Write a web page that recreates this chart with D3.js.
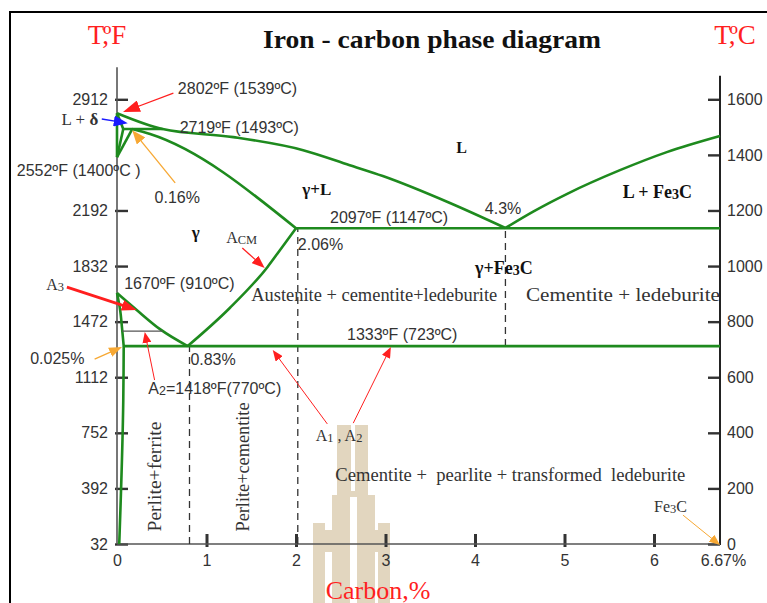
<!DOCTYPE html>
<html><head><meta charset="utf-8">
<script src="https://cdn.jsdelivr.net/npm/d3@7"></script>
<style>body{margin:0;background:#fff}svg{display:block}text{white-space:pre}</style>
</head><body>
<svg id="c" width="767" height="603"></svg>
<script>
// ---------------- data ----------------
const carbonTicks = [0, 1, 2, 3, 4, 5, 6, 6.67];
const carbonTickLabels = ["0", "1", "2", "3", "4", "5", "6", "6.67%"];
const tempFTicks = [32, 392, 752, 1112, 1472, 1832, 2192, 2912];
const tempCTicks = [0, 200, 400, 600, 800, 1000, 1200, 1400, 1600];

// phase boundaries [carbon %, temperature °C]
const liquidusLeft = [[0,1550],[0.51,1493],[1.30,1464],[2.08,1417],[2.60,1363],[2.97,1324],[3.72,1227],[4.34,1137]];
const liquidusRight = [[4.34,1137],[4.65,1196],[5.03,1260],[5.62,1345],[6.13,1410],[6.67,1468]];
const solidusGamma = [[0.17,1493],[0.37,1475],[2.0,1136]];
const deltaSolidus = [[0,1550],[0.07,1493]];
const deltaLeft = [[0,1392],[0.07,1493]];
const deltaRight = [[0,1392],[0.17,1493]];
const ironAxis = [[0,1550],[0,1392]];
const peritectic = [[0.07,1493],[0.51,1493]];
const eutectic = [[2.0,1136],[6.67,1136]];
const eutectoid = [[0.075,712],[6.67,712]];
const acmLine = [[0.79,712],[1.26,849],[1.68,996],[1.82,1057],[2.0,1136]];
const a3Line = [[0,903],[0.22,842],[0.48,773],[0.79,712]];
const alphaBoundary = [[0,903],[0.035,842],[0.055,781],[0.075,712]];
const ferriteSolvus = [[0.075,712],[0.07,515],[0.025,0]];
const a2Line = [[0.056,766],[0.51,766]];
const dashedCarbon = [0.81, 2.02, 4.34];
const dashedFrom = [0, 0, 712];
const dashedTo = [712, 1136, 1136];

// annotations: text, [carbon, °C] anchor
const labelTexts = [
 "2802ºF (1539ºC)", "L + *{δ}", "2719ºF (1493ºC)", "2552ºF (1400ºC )", "0.16%",
 "L", "γ+L", "4.3%", "L + Fe_{3}C", "2097ºF (1147ºC)",
 "γ", "A_{CM}", "2.06%", "γ+Fe_{3}C", "1670ºF (910ºC)",
 "A_{3}", "Austenite + cementite+ledeburite", "Cementite + ledeburite", "1333ºF (723ºC)", "0.025%",
 "0.83%", "A_{2}=1418ºF(770ºC)", "A_{1} , A_{2}", "Cementite +  pearlite + transformed  ledeburite",
 "Perlite+ferrite", "Perlite+cementite", "Fe_{3}C"
];
const labelAnchors = [
 [0.68,1619], [-0.21,1507], [0.70,1478], [-1.12,1324], [0.42,1227],
 [3.85,1406], [2.07,1255], [4.11,1187], [5.65,1245], [2.38,1155],
 [0.88,1101], [1.22,1083], [2.02,1058], [4.0,971], [0.08,917],
 [-0.79,914], [1.50,874], [4.57,874], [2.57,734], [-0.97,647],
 [0.82,644], [0.35,540], [2.22,371], [2.44,227],
 [0.42,45], [1.41,45], [6.0,115]
];
const arrowFrom = [[0.63,1622],[-0.17,1529],[0.65,1299],[-0.56,924],[0.42,590],[-0.25,665],[2.35,432],[2.64,435],[1.40,1065],[6.294,104]];
const arrowTo   = [[0.067,1554],[0.12,1514],[0.17,1489],[0.22,842],[0.31,763],[0.056,709],[1.74,698],[3.06,709],[1.65,993],[6.67,-4]];

// ---------------- drawing ----------------
const SANS = "'Liberation Sans', Arial, sans-serif";
const SERIF = "'Liberation Serif', 'Times New Roman', serif";
const GREEN = "#1e8a1e", RED = "#ff1f1f", BLUE = "#1a1aff", ORANGE = "#f7a833";

const svg = d3.select("#c");
const defs = svg.append("defs");

const x = d3.scaleLinear().domain([0, 6, 6.67]).range([117, 654, 720]);
const y = d3.scaleLinear().domain([0, 1600]).range([544, 99.3]);
const yF = d3.scaleLinear().domain([32, 2912]).range([y(0), y(1600)]);

// frame
svg.append("path").attr("d", "M10,603V12H767").attr("fill", "none").attr("stroke", "#000").attr("stroke-width", 2);

// watermark (decorative logo)
const wm = svg.append("g").attr("fill", "#e2d6bf");
[[337,425,31,72],[332,495,18,108],[357,495,18,108],[313,523,12,80],[378,523,12,80],[313,530,37,22],[357,530,33,22]]
  .forEach(r => wm.append("rect").attr("x", r[0]).attr("y", r[1]).attr("width", r[2]).attr("height", r[3]));
svg.append("rect").attr("x", 351).attr("y", 425).attr("width", 4).attr("height", 66).attr("fill", "#fff");

// axes
const axL = svg.append("g").attr("transform", `translate(${x(0)},0)`)
  .call(d3.axisLeft(yF).tickValues(tempFTicks).tickSizeInner(-11).tickSizeOuter(0).tickPadding(9).tickFormat(d3.format("d")));
const axR = svg.append("g").attr("transform", `translate(${x(6.67)},0)`)
  .call(d3.axisRight(y).tickValues(tempCTicks).tickSizeInner(-12).tickSizeOuter(0).tickPadding(7).tickFormat(d3.format("d")));
const axB = svg.append("g").attr("transform", `translate(0,${y(0)})`)
  .call(d3.axisBottom(x).tickValues(carbonTicks).tickSizeInner(-10).tickSizeOuter(0).tickPadding(11)
     .tickFormat((d, i) => carbonTickLabels[i]));
[axL, axR, axB].forEach(a => {
  a.select(".domain").remove();
  a.selectAll("text").attr("font-family", SANS).attr("font-size", 16).attr("fill", "#333");
  a.selectAll(".tick line").attr("stroke", "#333").attr("stroke-width", 2.4);
});
axL.selectAll(".tick line").attr("x1", -2);
axB.selectAll(".tick line").attr("y1", 3).attr("stroke-width", 3);
axB.selectAll(".tick").filter(d => d === 0 || d === 6.67).select("line").remove();
axB.selectAll(".tick").filter(d => d === 6.67).select("text").attr("dx", 3);

svg.append("line").attr("x1", x(0)).attr("x2", x(0)).attr("y1", y(1715)).attr("y2", y(0)).attr("stroke", "#555").attr("stroke-width", 1.6);
svg.append("line").attr("x1", x(6.67)).attr("x2", x(6.67)).attr("y1", y(1685)).attr("y2", y(0) + 1).attr("stroke", "#222").attr("stroke-width", 2);
svg.append("line").attr("x1", x(0)).attr("x2", x(6.67)).attr("y1", y(0)).attr("y2", y(0)).attr("stroke", "#555").attr("stroke-width", 1.6);

// dashed verticals
dashedCarbon.forEach((c, i) => {
  svg.append("line").attr("x1", x(c)).attr("x2", x(c)).attr("y1", y(dashedFrom[i])).attr("y2", y(dashedTo[i]))
    .attr("stroke", "#333").attr("stroke-width", 1.3).attr("stroke-dasharray", "7,5");
});

// phase lines
const lineX = d3.line().x(d => x(d[0])).y(d => y(d[1])).curve(d3.curveMonotoneX);
const lineY = d3.line().x(d => x(d[0])).y(d => y(d[1])).curve(d3.curveMonotoneY);
[liquidusLeft, liquidusRight, solidusGamma, deltaSolidus, deltaLeft, deltaRight, peritectic,
 eutectic, eutectoid, acmLine, a3Line].forEach(p => {
  svg.append("path").attr("d", lineX(p)).attr("fill", "none").attr("stroke", GREEN)
    .attr("stroke-width", 2.6).attr("stroke-linejoin", "round");
});
[ironAxis, alphaBoundary, ferriteSolvus].forEach(p => {
  svg.append("path").attr("d", lineY(p.slice().sort((a, b) => b[1] - a[1]))).attr("fill", "none").attr("stroke", GREEN)
    .attr("stroke-width", 2.6).attr("stroke-linejoin", "round");
});
svg.append("path").attr("d", lineX(a2Line)).attr("stroke", "#555").attr("stroke-width", 1.2);

// arrows
const arrowColor = [RED, BLUE, ORANGE, RED, RED, ORANGE, RED, RED, RED, ORANGE];
const arrowWidth = [1.3, 1.4, 1.3, 2.8, 1, 1.3, 1, 1, 1.3, 1];
const arrowHead = [[17,12],[14,11],[14,11],[15,11],[11,9],[13,10],[11,9],[11,9],[13,10],[11,9]];
arrowFrom.forEach((f, i) => {
  const id = "ah" + i;
  defs.append("marker").attr("id", id).attr("viewBox", "0 0 10 10").attr("refX", 10).attr("refY", 5)
    .attr("markerUnits", "userSpaceOnUse").attr("markerWidth", arrowHead[i][0]).attr("markerHeight", arrowHead[i][1])
    .attr("orient", "auto").attr("preserveAspectRatio", "none")
    .append("path").attr("d", "M0,0L10,5L0,10z").attr("fill", arrowColor[i]);
  const t = arrowTo[i];
  const dx = x(t[0]) - x(f[0]), dy = y(t[1]) - y(f[1]), L = Math.hypot(dx, dy);
  const back = arrowHead[i][0] * 0.6;
  svg.append("line").attr("x1", x(f[0])).attr("y1", y(f[1]))
    .attr("x2", x(t[0]) - dx / L * back).attr("y2", y(t[1]) - dy / L * back)
    .attr("stroke", arrowColor[i]).attr("stroke-width", arrowWidth[i]);
  svg.append("line").attr("x1", x(t[0]) - dx / L * 2).attr("y1", y(t[1]) - dy / L * 2)
    .attr("x2", x(t[0])).attr("y2", y(t[1]))
    .attr("stroke", "none").attr("marker-end", `url(#${id})`);
});

// labels
const labelFont =   ["s","r","s","s","s", "b","b","s","b","s", "b","r","s","b","s", "r","r","r","s","s", "s","s","r","r", "r","r","r"];
const labelSize =   [16,17,16,16,16, 16,17,16,18,16, 17,16,16,18,16, 16,18,18,16,16, 16,16,16,18, 18,18,16];
const labelAnchor = ["start","end","start","start","start", "middle","start","start","start","start",
                     "middle","start","start","start","start", "start","start","start","start","start",
                     "start","start","start","start", "start","start","start"];
const labelRotate = labelTexts.map((t, i) => (i === 24 || i === 25) ? -90 : 0);
const labelWidth = labelTexts.map((t, i) => ({16: 246, 17: 194, 23: 350, 24: 110, 25: 129})[i] || 0);

function addText(str, px, py, opts) {
  const t = svg.append("text").attr("x", px).attr("y", py)
    .attr("font-family", opts.family).attr("font-size", opts.size).attr("font-weight", opts.weight || "normal")
    .attr("fill", opts.fill || "#333").attr("text-anchor", opts.anchor || "start");
  if (opts.rotate) t.attr("transform", `rotate(${opts.rotate},${px},${py})`).attr("dominant-baseline", "central");
  if (opts.width) t.attr("textLength", opts.width).attr("lengthAdjust", "spacingAndGlyphs");
  const re = /(_\{[^}]*\}|\*\{[^}]*\})/g;
  const parts = str.split(re).filter(s => s.length);
  let shift = 0;
  parts.forEach(p => {
    let ts;
    if (p.startsWith("_{")) {
      ts = t.append("tspan").text(p.slice(2, -1)).attr("font-size", opts.size * 0.78).attr("dy", 1 - shift);
      shift = 1;
    } else {
      ts = t.append("tspan").text(p.startsWith("*{") ? p.slice(2, -1) : p);
      if (p.startsWith("*{")) ts.attr("font-weight", "bold");
      if (shift) { ts.attr("dy", -shift); shift = 0; }
    }
  });
  return t;
}

labelTexts.forEach((s, i) => {
  const f = labelFont[i];
  addText(s, x(labelAnchors[i][0]), y(labelAnchors[i][1]), {
    family: f === "s" ? SANS : SERIF,
    weight: f === "b" ? "bold" : "normal",
    size: labelSize[i],
    fill: f === "b" ? "#111" : "#333",
    anchor: labelAnchor[i],
    rotate: labelRotate[i],
    width: labelWidth[i]
  });
});

// titles
function unitTitle(px, unit) {
  const t = svg.append("text").attr("x", px).attr("y", 44).attr("text-anchor", "middle")
    .attr("font-family", SERIF).attr("font-size", 27).attr("fill", RED);
  t.append("tspan").text("T,");
  t.append("tspan").text("º").attr("dx", -6);
  t.append("tspan").text(unit);
}
unitTitle(107, "F");
unitTitle(735, "C");
svg.append("text").attr("x", 432).attr("y", 48).attr("text-anchor", "middle")
  .attr("font-family", SERIF).attr("font-weight", "bold").attr("font-size", 25).attr("fill", "#111")
  .attr("textLength", 338).attr("lengthAdjust", "spacingAndGlyphs")
  .text("Iron - carbon phase diagram");
svg.append("text").attr("x", 378).attr("y", 599).attr("text-anchor", "middle")
  .attr("font-family", SERIF).attr("font-size", 26).attr("fill", RED).text("Carbon,%");
</script>
</body></html>
